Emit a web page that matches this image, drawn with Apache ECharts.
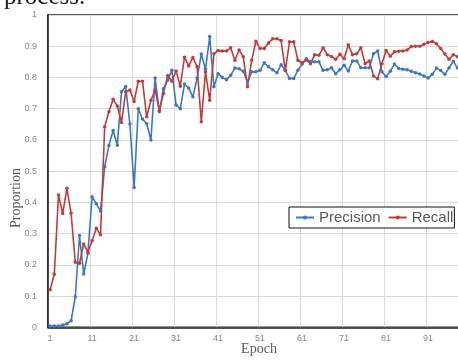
<!DOCTYPE html>
<html>
<head>
<meta charset="utf-8">
<script src="https://cdn.jsdelivr.net/npm/echarts@6/dist/echarts.min.js"></script>
<style>
html,body{margin:0;padding:0;background:#fff;overflow:hidden;width:458px;height:360px;}
#chart{width:480px;height:360px;}
</style>
</head>
<body>
<div id="chart"></div>
<script>
// Epochs 1..100 (the chart is cropped on the right; values visible up to epoch 98)
const epochs = [];
for (let i = 1; i <= 100; i++) epochs.push(String(i));

const yTickLabels = ['0','0.1','0.2','0.3','0.4','0.5','0.6','0.7','0.8','0.9','1'];

const precision = [
  0.004, 0.004, 0.004, 0.007, 0.011, 0.021, 0.098, 0.294, 0.171, 0.237,
  0.418, 0.396, 0.372, 0.514, 0.582, 0.630, 0.583, 0.754, 0.771, 0.651,
  0.448, 0.700, 0.667, 0.652, 0.600, 0.798, 0.690, 0.764, 0.791, 0.823,
  0.712, 0.700, 0.779, 0.766, 0.738, 0.798, 0.875, 0.826, 0.931, 0.770,
  0.812, 0.800, 0.793, 0.807, 0.830, 0.828, 0.820, 0.786, 0.818, 0.818,
  0.823, 0.847, 0.834, 0.825, 0.815, 0.841, 0.823, 0.797, 0.797, 0.823,
  0.843, 0.860, 0.850, 0.850, 0.850, 0.823, 0.825, 0.831, 0.812, 0.825,
  0.839, 0.821, 0.853, 0.853, 0.831, 0.831, 0.831, 0.876, 0.885, 0.818,
  0.803, 0.820, 0.843, 0.829, 0.826, 0.825, 0.820, 0.815, 0.811, 0.805,
  0.798, 0.810, 0.830, 0.822, 0.810, 0.831, 0.852, 0.830
];

const recall = [
  0.120, 0.170, 0.424, 0.364, 0.445, 0.365, 0.208, 0.205, 0.267, 0.241,
  0.277, 0.317, 0.296, 0.642, 0.690, 0.730, 0.709, 0.656, 0.754, 0.760,
  0.723, 0.788, 0.788, 0.674, 0.727, 0.760, 0.694, 0.749, 0.806, 0.788,
  0.821, 0.772, 0.865, 0.837, 0.864, 0.834, 0.658, 0.818, 0.727, 0.876,
  0.886, 0.885, 0.885, 0.895, 0.855, 0.888, 0.866, 0.770, 0.855, 0.916,
  0.893, 0.893, 0.910, 0.924, 0.924, 0.918, 0.822, 0.914, 0.914, 0.855,
  0.847, 0.856, 0.844, 0.873, 0.871, 0.895, 0.873, 0.867, 0.858, 0.874,
  0.860, 0.905, 0.873, 0.876, 0.895, 0.844, 0.853, 0.805, 0.796, 0.844,
  0.886, 0.868, 0.882, 0.884, 0.885, 0.888, 0.899, 0.900, 0.900, 0.906,
  0.912, 0.915, 0.908, 0.893, 0.875, 0.858, 0.873, 0.866
];

const seriesNames = ['Precision', 'Recall'];
const colors = ['#3b78c3', '#c03c3c'];

const chart = echarts.init(document.getElementById('chart'), null, {renderer: 'canvas'});

const tickFont = {color: '#868686', fontSize: 9, fontFamily: 'Liberation Sans'};

chart.setOption({
  animation: false,
  backgroundColor: '#fff',
  color: colors,
  grid: {
    left: 48, top: 15, width: 420, height: 312.3,
    show: true, borderColor: '#262626', borderWidth: 1.5,
    containLabel: false
  },
  xAxis: {
    type: 'category',
    data: epochs,
    boundaryGap: true,
    axisLine: {show: true, lineStyle: {color: '#1a1a1a', width: 1.5}},
    axisTick: {show: false, interval: 9},
    axisLabel: Object.assign({interval: 9, margin: 7}, tickFont),
    splitLine: {show: true, interval: 9, lineStyle: {color: '#d9d9d9', width: 1}}
  },
  yAxis: {
    type: 'value',
    min: 0, max: 1, interval: 0.1,
    axisLine: {show: true, lineStyle: {color: '#1a1a1a', width: 1.5}},
    axisTick: {show: false},
    axisLabel: Object.assign({
      margin: 11,
      formatter: function (v) { return yTickLabels[Math.round(v * 10)]; }
    }, tickFont),
    splitLine: {show: true, lineStyle: {color: '#d9d9d9', width: 1}}
  },
  legend: {
    data: seriesNames,
    left: 289, top: 207,
    orient: 'horizontal',
    backgroundColor: '#fff',
    borderColor: '#111',
    borderWidth: 1,
    padding: [3, 1, 3, 6],
    itemGap: 7,
    itemWidth: 18,
    itemHeight: 5,
    textStyle: {color: '#595959', fontSize: 15, fontFamily: 'Liberation Sans'}
  },
  graphic: [
    {
      type: 'text', x: 4, y: -3,
      style: {text: 'process.', font: '25px "Liberation Serif"', fill: '#1a1a1a',
              textAlign: 'left', textVerticalAlign: 'middle'}
    },
    {
      type: 'text', x: 16, y: 198, rotation: Math.PI / 2,
      style: {text: 'Proportion', font: '14px "Liberation Serif"', fill: '#595959',
              textAlign: 'center', textVerticalAlign: 'middle'}
    },
    {
      type: 'text', x: 259, y: 349,
      style: {text: 'Epoch', font: '14px "Liberation Serif"', fill: '#595959',
              textAlign: 'center', textVerticalAlign: 'middle'}
    }
  ],
  series: [
    {
      name: seriesNames[0], type: 'line', data: precision,
      symbol: 'circle', symbolSize: 3.5, showAllSymbol: true,
      lineStyle: {width: 1.6, color: colors[0]},
      itemStyle: {color: colors[0]}
    },
    {
      name: seriesNames[1], type: 'line', data: recall,
      symbol: 'circle', symbolSize: 3.5, showAllSymbol: true,
      lineStyle: {width: 1.6, color: colors[1]},
      itemStyle: {color: colors[1]}
    }
  ]
});
</script>
</body>
</html>
